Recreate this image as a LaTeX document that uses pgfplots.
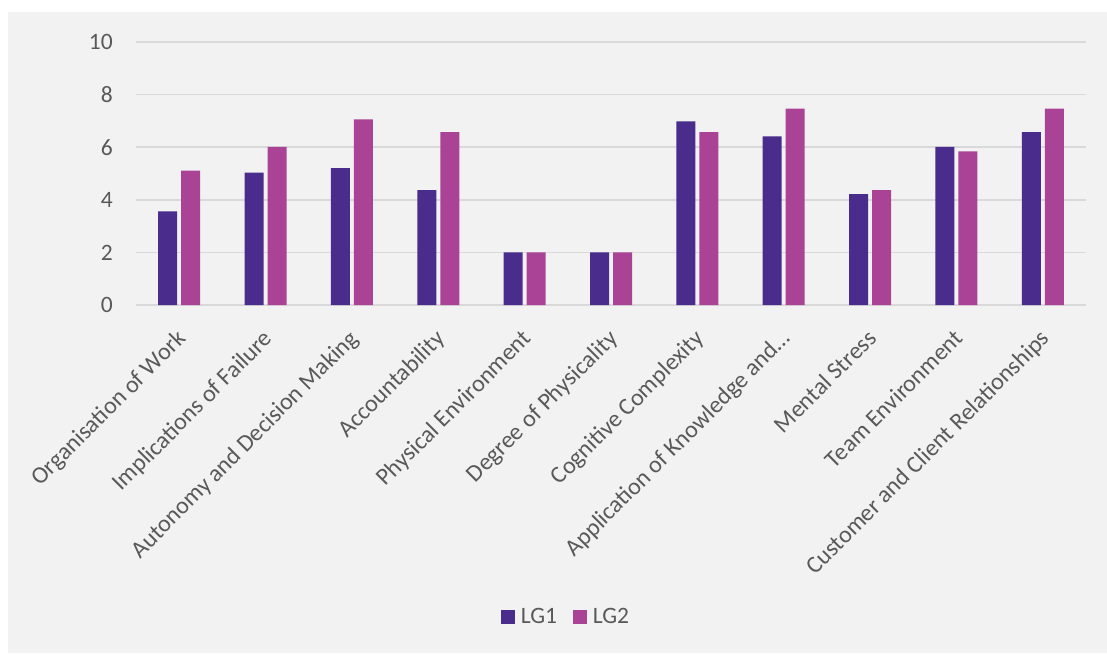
\documentclass[border=0pt]{standalone}
\usepackage{fontspec}
\setmainfont{Carlito}
\usepackage{pgfplots}
\pgfplotsset{compat=1.18}
\definecolor{lgone}{RGB}{73,44,139}
\definecolor{lgtwo}{RGB}{170,67,150}
\definecolor{gridc}{RGB}{217,217,217}
\definecolor{bgc}{RGB}{242,242,242}
\definecolor{txt}{RGB}{89,89,89}
\begin{document}
\begin{tikzpicture}[x=1pt,y=1pt]
\useasboundingbox (0,0) rectangle (1107,-653);
\fill[white] (0,0) rectangle (1107,-653);
\fill[bgc] (8,-12) rectangle (1107,-653);
\begin{axis}[
  at={(136pt,-305pt)}, anchor=south west,
  scale only axis, width=950pt, height=263pt,
  ybar=4pt, bar width=19pt,
  xmin=-0.5, xmax=10.5, ymin=0, ymax=10,
  ytick={0,2,4,6,8,10},
  xtick={0,...,10},
  xticklabels={Organisation of Work,Implications of Failure,Autonomy and Decision Making,Accountability,Physical Environment,Degree of Physicality,Cognitive Complexity,Application of Knowledge and…,Mental Stress,Team Environment,Customer and Client Relationships},
  ymajorgrids, grid style={draw=gridc, line width=1.5pt},
  axis line style={draw=none},
  major tick length=0pt,
  /pgf/number format/assume math mode=true,
  yticklabel style={font=\fontsize{23.5}{28}\selectfont, text=txt, inner sep=0pt, xshift=-23pt},
  xticklabel style={font=\fontsize{24}{29}\selectfont, text=txt, xshift=-4pt, yshift=-23pt, rotate=45, anchor=north east, inner sep=0pt},
  legend columns=2,
  legend style={at={(0.4526,-1.186)}, anchor=center, draw=none, fill=none,
    font=\fontsize{23.5}{28}\selectfont, text=txt,
    /tikz/every odd column/.append style={column sep=4pt},
    /tikz/every even column/.append style={column sep=14pt}},
  clip=false,
]
\addplot[fill=lgone, draw=none, legend image code/.code={\fill[lgone] (0pt,-7pt) rectangle (14pt,7pt);}] coordinates {
(0,3.56) (1,5.03) (2,5.20) (3,4.37) (4,2.0) (5,2.0) (6,6.98) (7,6.41) (8,4.22) (9,6.01) (10,6.57)};
\addplot[fill=lgtwo, draw=none, legend image code/.code={\fill[lgtwo] (0pt,-7pt) rectangle (14pt,7pt);}] coordinates {
(0,5.11) (1,6.01) (2,7.06) (3,6.57) (4,2.0) (5,2.0) (6,6.57) (7,7.47) (8,4.37) (9,5.84) (10,7.47)};
\legend{LG1,LG2}
\end{axis}
\end{tikzpicture}
\end{document}
